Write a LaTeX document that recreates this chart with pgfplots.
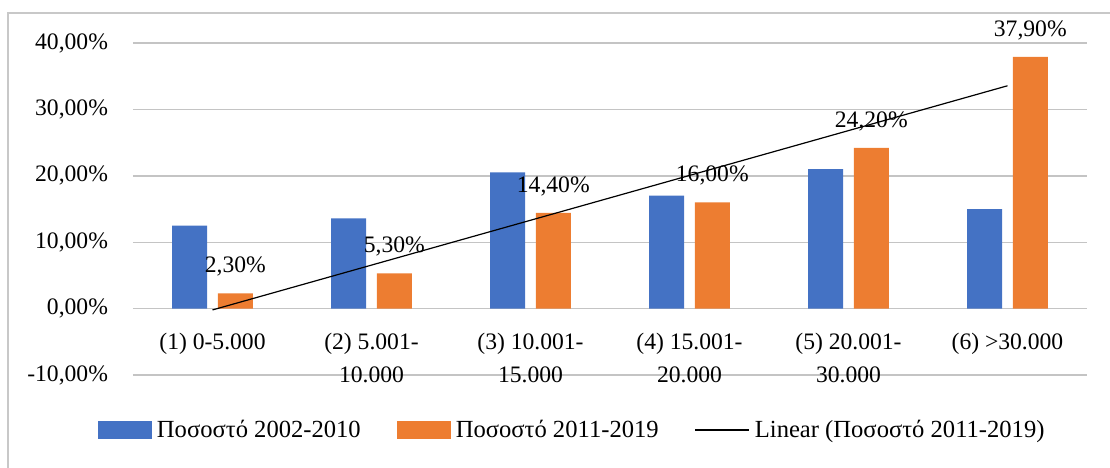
\documentclass[border=0pt]{standalone}
\usepackage{pgfplots}
\pgfplotsset{compat=1.18}
\usepackage{fontspec}
\setmainfont{Liberation Serif}
\definecolor{barblue}{HTML}{4472C4}
\definecolor{barorange}{HTML}{ED7D31}
\definecolor{gridgray}{HTML}{C4C4C4}
\definecolor{framegray}{HTML}{C8C8C8}

\begin{document}
\begin{tikzpicture}
\useasboundingbox (-66.5pt,-46pt) rectangle (488.5pt,187.5pt);
\draw[framegray, line width=0.7pt] (-62.5pt,-50pt) -- (-62.5pt,181pt) -- (495pt,181pt);
\begin{axis}[
    at={(0,0)}, anchor=south west,
    scale only axis,
    width=477pt, height=166pt,
    xmin=-0.5, xmax=5.5,
    ymin=-10, ymax=40,
    clip=false,
    axis line style={draw=none},
    major tick length=0pt,
    font=\fontsize{11.8pt}{16.5pt}\selectfont,
    ytick={-10,0,10,20,30,40},
    yticklabels={{-10,00\%},{0,00\%},{10,00\%},{20,00\%},{30,00\%},{40,00\%}},
    yticklabel style={xshift=-9pt},
    ymajorgrids,
    grid style={gridgray, line width=0.7pt},
    xtick={0,1,2,3,4,5},
    xticklabels={{(1) 0-5.000},{(2) 5.001-\\10.000},{(3) 10.001-\\15.000},{(4) 15.001-\\20.000},{(5) 20.001-\\30.000},{(6) >30.000}},
    xticklabel style={align=center, yshift=24.5pt},
    legend columns=3,
    legend style={at={(-0.0367,-0.1657)}, anchor=west, draw=none, fill=none,
        inner sep=0pt, outer sep=0pt,
        nodes={inner sep=0pt, anchor=west},
        font=\fontsize{12.3pt}{13pt}\selectfont,
        /tikz/every odd column/.append style={column sep=2.5pt},
        /tikz/every even column/.append style={column sep=18pt}},
]
\addplot[ybar, bar width=17.5pt, bar shift=-11.4pt, fill=barblue, draw=none,
    legend image code/.code={\fill[barblue] (0pt,-4.5pt) rectangle (27pt,4.5pt);}]
    coordinates {(0,12.5) (1,13.6) (2,20.5) (3,17.0) (4,21.0) (5,15.0)};
\addlegendentry{Ποσοστό 2002-2010}
\addplot[ybar, bar width=17.5pt, bar shift=11.4pt, fill=barorange, draw=none,
    nodes near coords={\pgfmathprintnumber[fixed,fixed zerofill,precision=2,use comma,assume math mode=true]{\pgfplotspointmeta}\%},
    every node near coord/.append style={anchor=south, xshift=11.4pt, yshift=5pt, black},
    legend image code/.code={\fill[barorange] (0pt,-4.5pt) rectangle (27pt,4.5pt);}]
    coordinates {(0,2.3) (1,5.3) (2,14.4) (3,16.0) (4,24.2) (5,37.9)};
\addlegendentry{Ποσοστό 2011-2019}
\addplot[black, line width=0.6pt, mark=none,
    legend image code/.code={\draw[black, line width=0.6pt] (0pt,0pt) -- (27pt,0pt);}]
    coordinates {(0,-0.20) (5,33.56)};
\addlegendentry{Linear (Ποσοστό 2011-2019)}
\end{axis}
\end{tikzpicture}
\end{document}
